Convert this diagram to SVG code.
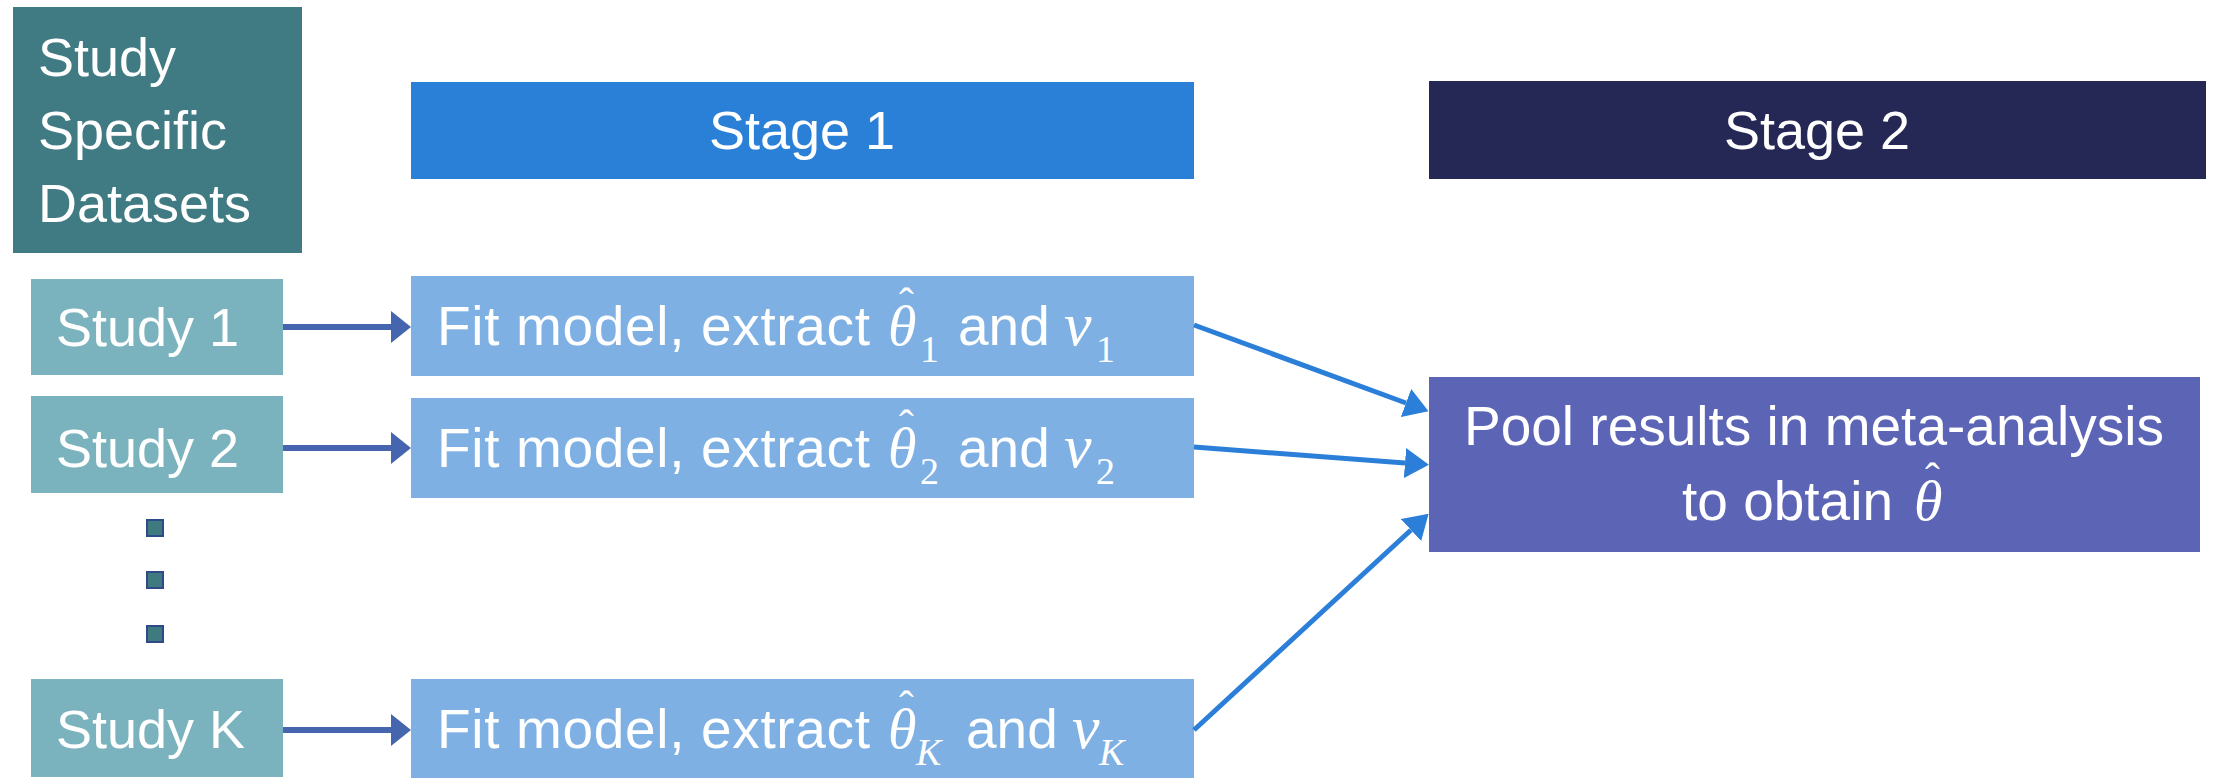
<svg xmlns="http://www.w3.org/2000/svg" width="2216" height="778" viewBox="0 0 2216 778">
<style>
.lbl{font-family:"Liberation Sans",Arial,sans-serif;fill:#ffffff;font-size:54px}
.fit{font-family:"Liberation Sans",Arial,sans-serif;fill:#ffffff;font-size:55px}
.m{font-family:"Liberation Serif","Times New Roman",serif;fill:#ffffff;font-style:italic;font-size:58px}
.hat{font-style:normal;font-size:44px}
.v{font-family:"Liberation Serif","Times New Roman",serif;fill:#ffffff;font-style:italic;font-size:62px}
.sb{font-style:normal;font-size:38px}
.sbi{font-style:italic;font-size:38px}
.study{fill:#7AB3BD}
.fitbox{fill:#7EB0E4}
.dot{fill:#3F7A80;stroke:#2F4A88;stroke-width:2}
.sa{stroke:#4566AE;stroke-width:6;fill:none}
.ba{stroke:#2B7FD8;stroke-width:5;fill:none}
</style>
<defs>
<marker id="hs" viewBox="0 0 20 32" refX="0" refY="16" markerWidth="20" markerHeight="32" markerUnits="userSpaceOnUse" orient="auto">
<path d="M0,0 L20,16 L0,32 z" fill="#4566AE"/>
</marker>
<marker id="hb" viewBox="0 0 24 30" refX="0" refY="15" markerWidth="24" markerHeight="30" markerUnits="userSpaceOnUse" orient="auto">
<path d="M0,0 L24,15 L0,30 z" fill="#2B7FD8"/>
</marker>
</defs>
<rect width="2216" height="778" fill="#ffffff"/>

<g id="header">
<rect x="13" y="7" width="289" height="246" fill="#407A82"/>
<text class="lbl" x="38" y="76">Study</text>
<text class="lbl" x="38" y="149">Specific</text>
<text class="lbl" x="38" y="222">Datasets</text>
</g>

<g id="stage1">
<rect x="411" y="82" width="783" height="97" fill="#2A7FD6"/>
<text class="lbl" x="802" y="149" text-anchor="middle">Stage 1</text>
</g>

<g id="stage2">
<rect x="1429" y="81" width="777" height="98" fill="#252854"/>
<text class="lbl" x="1817" y="149" text-anchor="middle">Stage 2</text>
</g>

<g id="study1">
<rect class="study" x="31" y="279" width="252" height="96"/>
<text class="lbl" x="56" y="346">Study 1</text>
</g>
<g id="study2">
<rect class="study" x="31" y="396" width="252" height="97"/>
<text class="lbl" x="56" y="467">Study 2</text>
</g>
<g id="dots">
<rect class="dot" x="147" y="520" width="16" height="16"/>
<rect class="dot" x="147" y="572" width="16" height="16"/>
<rect class="dot" x="147" y="626" width="16" height="16"/>
</g>
<g id="studyK">
<rect class="study" x="31" y="679" width="252" height="98"/>
<text class="lbl" x="56" y="748">Study K</text>
</g>

<g id="fit1">
<rect class="fitbox" x="411" y="276" width="783" height="100"/>
<text class="fit" x="437" y="345" textLength="433" lengthAdjust="spacing">Fit model, extract</text>
<text class="m" x="888" y="345">θ<tspan class="hat" x="899" y="318">ˆ</tspan><tspan class="sb" x="920" y="362">1</tspan></text>
<text class="fit" x="958" y="345">and</text>
<text class="v" x="1064" y="345">v<tspan class="sb" x="1096" y="362">1</tspan></text>
</g>
<g id="fit2">
<rect class="fitbox" x="411" y="398" width="783" height="100"/>
<text class="fit" x="437" y="467" textLength="433" lengthAdjust="spacing">Fit model, extract</text>
<text class="m" x="888" y="467">θ<tspan class="hat" x="899" y="440">ˆ</tspan><tspan class="sb" x="920" y="484">2</tspan></text>
<text class="fit" x="958" y="467">and</text>
<text class="v" x="1064" y="467">v<tspan class="sb" x="1096" y="484">2</tspan></text>
</g>
<g id="fitK">
<rect class="fitbox" x="411" y="679" width="783" height="99"/>
<text class="fit" x="437" y="748" textLength="433" lengthAdjust="spacing">Fit model, extract</text>
<text class="m" x="888" y="748">θ<tspan class="hat" x="899" y="721">ˆ</tspan><tspan class="sbi" x="916" y="765">K</tspan></text>
<text class="fit" x="966" y="748">and</text>
<text class="v" x="1072" y="748">v<tspan class="sbi" x="1099" y="765">K</tspan></text>
</g>

<g id="pool">
<rect x="1429" y="377" width="771" height="175" fill="#5C64B5"/>
<text class="fit" x="1814" y="445" text-anchor="middle">Pool results in meta-analysis</text>
<text class="fit" x="1682" y="520">to obtain</text>
<text class="m" x="1914" y="520">θ<tspan class="hat" x="1925" y="493">ˆ</tspan></text>
</g>

<g id="connectors">
<path class="sa" d="M283,327 L391,327" marker-end="url(#hs)"/>
<path class="sa" d="M283,448 L391,448" marker-end="url(#hs)"/>
<path class="sa" d="M283,730 L391,730" marker-end="url(#hs)"/>
<path class="ba" d="M1194,325 L1406,403" marker-end="url(#hb)"/>
<path class="ba" d="M1194,447 L1405,463" marker-end="url(#hb)"/>
<path class="ba" d="M1194,730 L1411,530" marker-end="url(#hb)"/>
</g>
</svg>
